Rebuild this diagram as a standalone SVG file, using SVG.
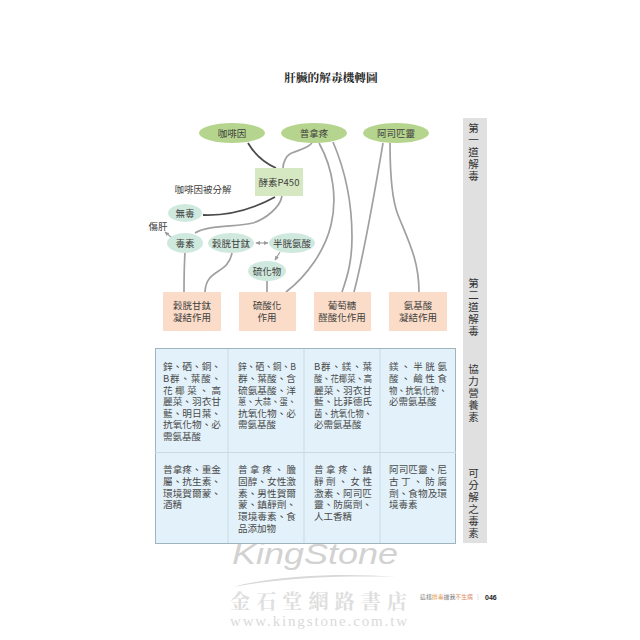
<svg xmlns="http://www.w3.org/2000/svg" width="640" height="640" viewBox="0 0 640 640">
<style>
text{font-family:"Noto Sans CJK TC","Noto Sans",sans-serif;fill:#3f3f3d;font-size:9.5px}
.m{text-anchor:middle}
.g{fill:#b5d48d}.t{fill:#d0e9df}.o{fill:#fbdcc9}
.l{fill:none;stroke:#a0a0a0;stroke-width:1.7}
.s{fill:none;stroke:#a0a0a0;stroke-width:1.2}
.d{fill:none;stroke:#4a4a4a;stroke-width:1.8}
.v{font-size:10.500px;text-anchor:middle;fill:#333}
.c{font-size:9.500px;fill:#4a4a4a}
</style>
<defs><marker id="a" markerUnits="userSpaceOnUse" markerWidth="5" markerHeight="5" refX="4" refY="2.500" orient="auto-start-reverse"><path d="M0 0.500L4.500 2.500L0 4.500Z" fill="#9a9a9a"/></marker></defs>
<rect width="640" height="640" fill="#fff"/>
<text x="331" y="82" class="m" style="font-family:'Noto Serif CJK TC','Noto Sans CJK TC',serif;font-size:11.700px;font-weight:700;fill:#222">肝臟的解毒機轉圖</text>
<g id="watermark">
<text x="232" y="564" style="font-family:'Liberation Sans',sans-serif;font-style:italic;font-size:29px;fill:#d2d2d2" textLength="166" lengthAdjust="spacingAndGlyphs">KingStone</text>
<path d="M233 587C280 574 350 573 397 577C350 575.500 285 577 233 587Z" fill="#d8d8d8"/>
<text x="230" y="609" style="font-family:'Noto Serif CJK TC','Noto Sans CJK TC',serif;font-size:20px;font-weight:700;fill:#dedede" textLength="177">金石堂網路書店</text>
<text x="230" y="626" style="font-family:'Liberation Serif',serif;font-size:15px;fill:#dadada" textLength="177">www.kingstone.com.tw</text>
</g>
<g id="connectors">
<path class="d" d="M248 143C255 155 265 163 276 168"/>
<path class="l" d="M312 143C304 152 288 150 285 160Q283 164 283 168"/>
<path class="d" d="M203 215C230 216 255 208 275 197"/>
<path class="l" d="M282 196C280 208 265 219 253 223C235 227 208 225 195 233"/>
<path class="l" d="M319 143C334 170 337 200 331 225C325 250 308 275 286 292"/>
<path class="l" d="M333 142C345 170 352 200 352 237C352 260 348 275 342 292"/>
<path class="l" d="M383 143C375 190 365 250 354 292"/>
<path class="l" d="M390 143C390 175 392 200 398 215C408 240 419 260 419 292"/>
<path class="l" d="M185 252Q184 270 184 292"/>
<path class="l" d="M232 253C228 275 206 268 205 292"/>
<path class="l" d="M267 280V292"/>
<path class="s" d="M256 243H268" marker-start="url(#a)" marker-end="url(#a)"/>
<path class="s" d="M280 252L275 260" marker-end="url(#a)"/>
<path class="s" d="M172 238L165 232" marker-end="url(#a)"/>
</g>
<g id="node-caffeine"><ellipse class="g" cx="232" cy="133" rx="33" ry="10"/><text x="232" y="136.500" class="m">咖啡因</text></g>
<g id="node-paracetamol"><ellipse class="g" cx="314" cy="133" rx="33" ry="10"/><text x="314" y="136.500" class="m">普拿疼</text></g>
<g id="node-aspirin"><ellipse class="g" cx="396" cy="133" rx="33" ry="10"/><text x="396" y="136.500" class="m">阿司匹靈</text></g>
<g id="node-p450"><rect x="255" y="168" width="48" height="28" fill="#d6e8c2"/><text x="279" y="186" class="m">酵素P450</text></g>
<text x="203" y="192.500" class="m">咖啡因被分解</text>
<g id="node-nontoxic"><ellipse class="t" cx="185" cy="213" rx="17" ry="9"/><text x="185" y="216.500" class="m">無毒</text></g>
<g id="node-toxin"><ellipse class="t" cx="185" cy="243" rx="18" ry="10"/><text x="185" y="246.500" class="m">毒素</text></g>
<text x="158" y="229.500" class="m">傷肝</text>
<g id="node-glutathione"><ellipse class="t" cx="231" cy="243" rx="23" ry="10"/><text x="231" y="246.500" class="m">穀胱甘鈦</text></g>
<g id="node-cysteine"><ellipse class="t" cx="292" cy="243" rx="23" ry="10"/><text x="292" y="246.500" class="m">半胱氨酸</text></g>
<g id="node-sulfide"><ellipse class="t" cx="267" cy="271" rx="19" ry="10"/><text x="267" y="274.500" class="m">硫化物</text></g>
<g id="node-b1"><rect class="o" x="163" y="292" width="58" height="39"/><text x="192" y="309" class="m">穀胱甘鈦</text><text x="192" y="321" class="m">凝結作用</text></g>
<g id="node-b2"><rect class="o" x="239" y="292" width="57" height="39"/><text x="267" y="309" class="m">硫酸化</text><text x="267" y="321" class="m">作用</text></g>
<g id="node-b3"><rect class="o" x="314" y="292" width="57" height="39"/><text x="342" y="309" class="m">葡萄糖</text><text x="342" y="321" class="m">醛酸化作用</text></g>
<g id="node-b4"><rect class="o" x="389" y="292" width="58" height="39"/><text x="418" y="309" class="m">氨基酸</text><text x="418" y="321" class="m">凝結作用</text></g>
<g id="side"><rect x="463" y="118" width="24" height="425" fill="#e0e0e0"/>
<text class="v"><tspan x="473.500" y="132">第</tspan><tspan x="473.500" y="144">一</tspan><tspan x="473.500" y="156">道</tspan><tspan x="473.500" y="168">解</tspan><tspan x="473.500" y="180">毒</tspan></text>
<text class="v"><tspan x="473.500" y="287">第</tspan><tspan x="473.500" y="299">二</tspan><tspan x="473.500" y="311">道</tspan><tspan x="473.500" y="323">解</tspan><tspan x="473.500" y="335">毒</tspan></text>
<text class="v"><tspan x="473.500" y="373">協</tspan><tspan x="473.500" y="385">力</tspan><tspan x="473.500" y="397">營</tspan><tspan x="473.500" y="409">養</tspan><tspan x="473.500" y="421">素</tspan></text>
<text class="v"><tspan x="473.500" y="477">可</tspan><tspan x="473.500" y="489">分</tspan><tspan x="473.500" y="501">解</tspan><tspan x="473.500" y="513">之</tspan><tspan x="473.500" y="525">毒</tspan><tspan x="473.500" y="537">素</tspan></text>
</g>
<g id="table"><rect x="155.500" y="348.500" width="300" height="195" fill="#e3f2fa" stroke="#9db5bc"/>
<path d="M155 452.500H456M228 349V543M304 349V543M380 349V543" stroke="#c8dae2" fill="none"/>
<g>
<text class="c" x="163" y="370" textLength="58" lengthAdjust="spacingAndGlyphs">鋅、硒、銅、</text><text class="c" x="163" y="382" textLength="58">B群、葉酸、</text><text class="c" x="163" y="393.500" textLength="58">花椰菜、高</text><text class="c" x="163" y="405" textLength="58" lengthAdjust="spacingAndGlyphs">麗菜、羽衣甘</text><text class="c" x="163" y="416.500" textLength="58" lengthAdjust="spacingAndGlyphs">藍、明日葉、</text><text class="c" x="163" y="428" textLength="58" lengthAdjust="spacingAndGlyphs">抗氧化物、必</text><text class="c" x="163" y="440">需氨基酸</text>
<text class="c" x="238" y="370" textLength="58" lengthAdjust="spacingAndGlyphs">鋅、硒、銅、B</text><text class="c" x="238" y="382" textLength="58" lengthAdjust="spacingAndGlyphs">群、葉酸、含</text><text class="c" x="238" y="393.500" textLength="58" lengthAdjust="spacingAndGlyphs">硫氨基酸、洋</text><text class="c" x="238" y="405" textLength="58" lengthAdjust="spacingAndGlyphs">蔥、大蒜、蛋、</text><text class="c" x="238" y="416.500" textLength="58" lengthAdjust="spacingAndGlyphs">抗氧化物、必</text><text class="c" x="238" y="428">需氨基酸</text>
<text class="c" x="314" y="370" textLength="58">B群、鎂、葉</text><text class="c" x="314" y="382" textLength="58" lengthAdjust="spacingAndGlyphs">酸、花椰菜、高</text><text class="c" x="314" y="393.500" textLength="58" lengthAdjust="spacingAndGlyphs">麗菜、羽衣甘</text><text class="c" x="314" y="405" textLength="58" lengthAdjust="spacingAndGlyphs">藍、比菲德氏</text><text class="c" x="314" y="416.500" textLength="58" lengthAdjust="spacingAndGlyphs">菌、抗氧化物、</text><text class="c" x="314" y="428">必需氨基酸</text>
<text class="c" x="389" y="370" textLength="58">鎂、半胱氨</text><text class="c" x="389" y="382" textLength="58">酸、鹼性食</text><text class="c" x="389" y="393.500" textLength="58" lengthAdjust="spacingAndGlyphs">物、抗氧化物、</text><text class="c" x="389" y="405">必需氨基酸</text>
<text class="c" x="163" y="473" textLength="58" lengthAdjust="spacingAndGlyphs">普拿疼、重金</text><text class="c" x="163" y="485" textLength="58" lengthAdjust="spacingAndGlyphs">屬、抗生素、</text><text class="c" x="163" y="496.500" textLength="58" lengthAdjust="spacingAndGlyphs">環境賀爾蒙、</text><text class="c" x="163" y="508">酒精</text>
<text class="c" x="238" y="473" textLength="58">普拿疼、膽</text><text class="c" x="238" y="485" textLength="58" lengthAdjust="spacingAndGlyphs">固醇、女性激</text><text class="c" x="238" y="496.500" textLength="58" lengthAdjust="spacingAndGlyphs">素、男性賀爾</text><text class="c" x="238" y="508" textLength="58" lengthAdjust="spacingAndGlyphs">蒙、鎮靜劑、</text><text class="c" x="238" y="520" textLength="58" lengthAdjust="spacingAndGlyphs">環境毒素、食</text><text class="c" x="238" y="532">品添加物</text>
<text class="c" x="314" y="473" textLength="58">普拿疼、鎮</text><text class="c" x="314" y="485" textLength="58">靜劑、女性</text><text class="c" x="314" y="496.500" textLength="58" lengthAdjust="spacingAndGlyphs">激素、阿司匹</text><text class="c" x="314" y="508" textLength="58" lengthAdjust="spacingAndGlyphs">靈、防腐劑、</text><text class="c" x="314" y="520">人工香精</text>
<text class="c" x="389" y="473" textLength="58" lengthAdjust="spacingAndGlyphs">阿司匹靈、尼</text><text class="c" x="389" y="485" textLength="58">古丁、防腐</text><text class="c" x="389" y="496.500" textLength="58" lengthAdjust="spacingAndGlyphs">劑、食物及環</text><text class="c" x="389" y="508">境毒素</text>
</g></g>
<g id="footer"><text x="420" y="599" style="font-size:6px;fill:#777" textLength="53" lengthAdjust="spacingAndGlyphs">這樣<tspan fill="#e0a060">排毒</tspan>讓我<tspan fill="#e08a60">不生病</tspan></text><path d="M478 594V600" stroke="#ccc" stroke-width="0.6"/><text x="485" y="600" style="font-family:'Liberation Sans',sans-serif;font-size:7px;font-weight:700;fill:#222">046</text></g>
</svg>
